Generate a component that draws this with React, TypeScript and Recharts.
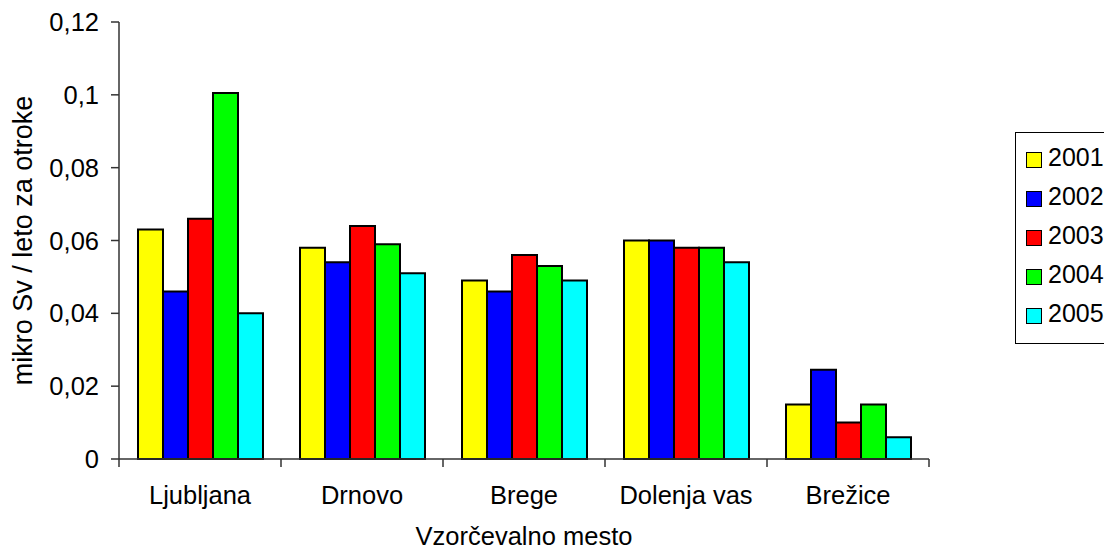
import React from 'react';
import { BarChart, Bar, XAxis, YAxis, Legend } from 'recharts';

// Vzorčevalna mesta in letne vrednosti (mikro Sv / leto za otroke)
const categories = ['Ljubljana', 'Drnovo', 'Brege', 'Dolenja vas', 'Brežice'];
const y2001 = [0.063, 0.058, 0.049, 0.06, 0.015];
const y2002 = [0.046, 0.054, 0.046, 0.06, 0.0245];
const y2003 = [0.066, 0.064, 0.056, 0.058, 0.01];
const y2004 = [0.1005, 0.059, 0.053, 0.058, 0.015];
const y2005 = [0.04, 0.051, 0.049, 0.054, 0.006];
const yTicks = [0, 0.02, 0.04, 0.06, 0.08, 0.1, 0.12];

const series = [
  { key: '2001', values: y2001, color: '#ffff00' },
  { key: '2002', values: y2002, color: '#0000ff' },
  { key: '2003', values: y2003, color: '#ff0000' },
  { key: '2004', values: y2004, color: '#00ff00' },
  { key: '2005', values: y2005, color: '#00ffff' }
];

const data = categories.map((name, i) => {
  const row: Record<string, string | number> = { name };
  series.forEach((s) => {
    row[s.key] = s.values[i];
  });
  return row;
});

const W = 1104;
const H = 551;
const margin = { top: 22, right: 175, left: 0, bottom: 0 };
const Y_AXIS_W = 119;
const X_AXIS_H = 92;
const plotBottom = H - margin.bottom - X_AXIS_H;
const band = (W - margin.right - Y_AXIS_W) / categories.length;
const FONT = 25.5;

const CategoryTick = (props: any) => {
  const { x, payload, index } = props;
  const left = x - band / 2;
  return (
    <g>
      <line x1={left} x2={left} y1={plotBottom} y2={plotBottom + 8} stroke='#333' strokeWidth={1.5} />
      {index === categories.length - 1 && (
        <line x1={left + band} x2={left + band} y1={plotBottom} y2={plotBottom + 8} stroke='#333' strokeWidth={1.5} />
      )}
      <text x={x} y={plotBottom + 45} textAnchor='middle' fill='#000' fontSize={FONT}>
        {payload.value}
      </text>
    </g>
  );
};

const YLabel = (props: any) => {
  const vb = props.viewBox || { y: margin.top, height: plotBottom - margin.top };
  const cy = vb.y + vb.height / 2;
  return (
    <text x={32} y={cy} transform={`rotate(-90, 32, ${cy})`} textAnchor='middle' fill='#000' fontSize={27}>
      mikro Sv / leto za otroke
    </text>
  );
};

const LegendBox = (props: any) => {
  const { payload = [] } = props;
  return (
    <div
      style={{
        border: '1px solid #000',
        background: '#fff',
        padding: '5px 0 10px 0',
        width: 110,
        boxSizing: 'border-box'
      }}
    >
      {payload.map((item: any) => (
        <div key={item.value} style={{ display: 'flex', alignItems: 'center', height: 39 }}>
          <span
            style={{
              display: 'inline-block',
              width: 14,
              height: 14,
              marginLeft: 10,
              marginTop: 4,
              background: item.color,
              border: '1px solid #000'
            }}
          />
          <span style={{ marginLeft: 6, fontSize: 25, color: '#000' }}>{item.value}</span>
        </div>
      ))}
    </div>
  );
};

export default function App() {
  return (
    <div
      style={{
        position: 'absolute',
        left: 0,
        top: 0,
        width: W,
        height: H,
        overflow: 'hidden',
        background: '#fff',
        fontFamily: '"Liberation Sans", Arial, sans-serif'
      }}
    >
      <BarChart width={W} height={H} data={data} margin={margin} barCategoryGap={19} barGap={0}>
        <XAxis
          dataKey='name'
          height={X_AXIS_H}
          axisLine={{ stroke: '#333', strokeWidth: 1.5 }}
          tickLine={false}
          tick={<CategoryTick />}
          interval={0}
          label={{ value: 'Vzorčevalno mesto', position: 'insideBottom', offset: 6, fill: '#000', fontSize: FONT }}
        />
        <XAxis
          xAxisId='top'
          dataKey='name'
          orientation='top'
          height={0}
          tick={false}
          tickLine={false}
          axisLine={{ stroke: '#999', strokeWidth: 1.5 }}
        />
        <YAxis
          width={Y_AXIS_W}
          domain={[0, 0.12]}
          ticks={yTicks}
          interval={0}
          tickFormatter={(v: number) => String(v).replace('.', ',')}
          tick={{ fill: '#000', fontSize: FONT }}
          tickSize={8}
          tickMargin={12}
          axisLine={{ stroke: '#333', strokeWidth: 1.5 }}
          tickLine={{ stroke: '#333', strokeWidth: 1.5 }}
          label={<YLabel />}
        />
        <YAxis
          yAxisId='right'
          orientation='right'
          width={0}
          domain={[0, 0.12]}
          tick={false}
          tickLine={false}
          axisLine={{ stroke: '#999', strokeWidth: 1.5 }}
        />
        <Legend
          layout='vertical'
          align='center'
          verticalAlign='middle'
          content={<LegendBox />}
          wrapperStyle={{ left: 1015, top: 132, width: 110 }}
        />
        {series.map((s) => (
          <Bar
            key={s.key}
            dataKey={s.key}
            fill={s.color}
            stroke='#000'
            strokeWidth={2}
            isAnimationActive={false}
          />
        ))}
      </BarChart>
    </div>
  );
}
